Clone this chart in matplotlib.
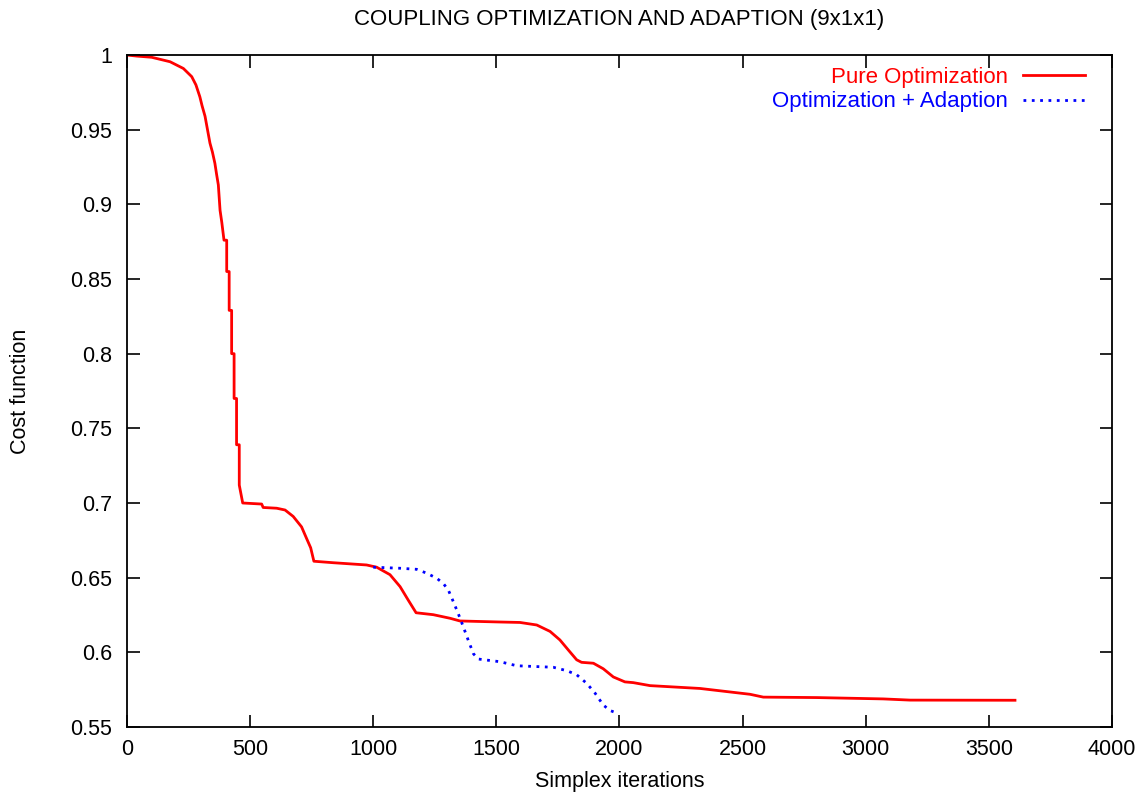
import matplotlib
matplotlib.use("Agg")
import matplotlib.pyplot as plt

# pure optimization run
pure_iter = [0, 39, 100, 175, 229, 263, 280, 296, 305, 317, 327, 337, 347, 357, 364,
             371, 378, 385, 394, 405, 405, 415, 415, 425, 425, 435, 435, 445, 445,
             456, 456, 470, 547, 553, 608, 642, 675, 709, 730, 746, 759, 838, 973,
             1014, 1068, 1109, 1142, 1174, 1244, 1312, 1352, 1515, 1596, 1664, 1718,
             1758, 1792, 1826, 1846, 1894, 1934, 1975, 2022, 2056, 2124, 2327, 2462,
             2530, 2584, 2801, 3071, 3180, 3606]
pure_cost = [1.0, 0.9993, 0.9985, 0.9955, 0.991, 0.9855, 0.980, 0.972, 0.966, 0.959,
             0.950, 0.941, 0.935, 0.9275, 0.920, 0.913, 0.896, 0.888, 0.876, 0.876,
             0.855, 0.855, 0.829, 0.829, 0.800, 0.800, 0.770, 0.770, 0.739, 0.739,
             0.712, 0.700, 0.6993, 0.697, 0.6965, 0.6953, 0.691, 0.684, 0.676, 0.670,
             0.661, 0.660, 0.6585, 0.657, 0.652, 0.644, 0.635, 0.6265, 0.6252, 0.6228,
             0.621, 0.6203, 0.620, 0.6183, 0.614, 0.6083, 0.6016, 0.595, 0.5933,
             0.5927, 0.589, 0.5835, 0.5802, 0.5797, 0.5777, 0.5758, 0.5732, 0.5719,
             0.570, 0.5697, 0.5688, 0.568, 0.5679]

# optimization + adaption run
adapt_iter = [1000, 1109, 1176, 1217, 1258, 1285, 1305, 1325, 1345, 1366, 1386, 1407,
              1427, 1515, 1583, 1731, 1786, 1826, 1867, 1901, 1934, 1962, 1995]
adapt_cost = [0.657, 0.6563, 0.6556, 0.653, 0.6496, 0.646, 0.6417, 0.634, 0.626,
              0.617, 0.608, 0.599, 0.5955, 0.5937, 0.591, 0.590, 0.5877, 0.585,
              0.5792, 0.5726, 0.5647, 0.561, 0.559]

plt.rcParams['font.family'] = ['Liberation Sans', 'DejaVu Sans']

fig = plt.figure(figsize=(11.47, 7.94), dpi=100)
ax = fig.add_axes([0.1107, 0.0844, 0.8588, 0.8463])

ax.plot(pure_iter, pure_cost, color='#ff0000', linewidth=2.0, label='Pure Optimization')
ax.plot(adapt_iter, adapt_cost, color='#0000ff', linewidth=2.0,
        linestyle=(0, (1, 2)), label='Optimization + Adaption')

ax.set_xlim(0, 4000)
ax.set_ylim(0.55, 1.0)
ax.set_xticks(range(0, 4001, 500))
ax.set_yticks([0.55, 0.6, 0.65, 0.7, 0.75, 0.8, 0.85, 0.9, 0.95, 1.0])
ax.set_yticklabels(['0.55', '0.6', '0.65', '0.7', '0.75', '0.8', '0.85', '0.9', '0.95', '1'])
ax.tick_params(direction='in', length=9, width=1.2, top=True, right=True,
               labelsize=15.5)
ax.tick_params(axis='y', pad=10.5)
ax.tick_params(axis='x', pad=9)
for s in ax.spines.values():
    s.set_linewidth(1.3)

ax.set_xlabel('Simplex iterations', fontsize=15.5)
ax.set_ylabel('Cost function', fontsize=15.5)
ax.xaxis.set_label_coords(0.5, -0.0804, transform=ax.transAxes)
ax.yaxis.set_label_coords(-0.1076, 0.5, transform=ax.transAxes)
ax.xaxis.label.set_va('center')
ax.yaxis.label.set_va('center')

fig.text(0.5400, 1 - 20 / 794, 'COUPLING OPTIMIZATION AND ADAPTION (9x1x1)',
         fontsize=16, ha='center', va='center')

leg = ax.legend(loc='upper right', bbox_to_anchor=(0.9726, 0.982), frameon=False,
                markerfirst=False, fontsize=16, handlelength=2.8,
                labelspacing=0.15, handletextpad=0.68, borderaxespad=0, borderpad=0)
for txt, line in zip(leg.get_texts(), leg.get_lines()):
    txt.set_color(line.get_color())

fig.savefig('out.png', dpi=100)
